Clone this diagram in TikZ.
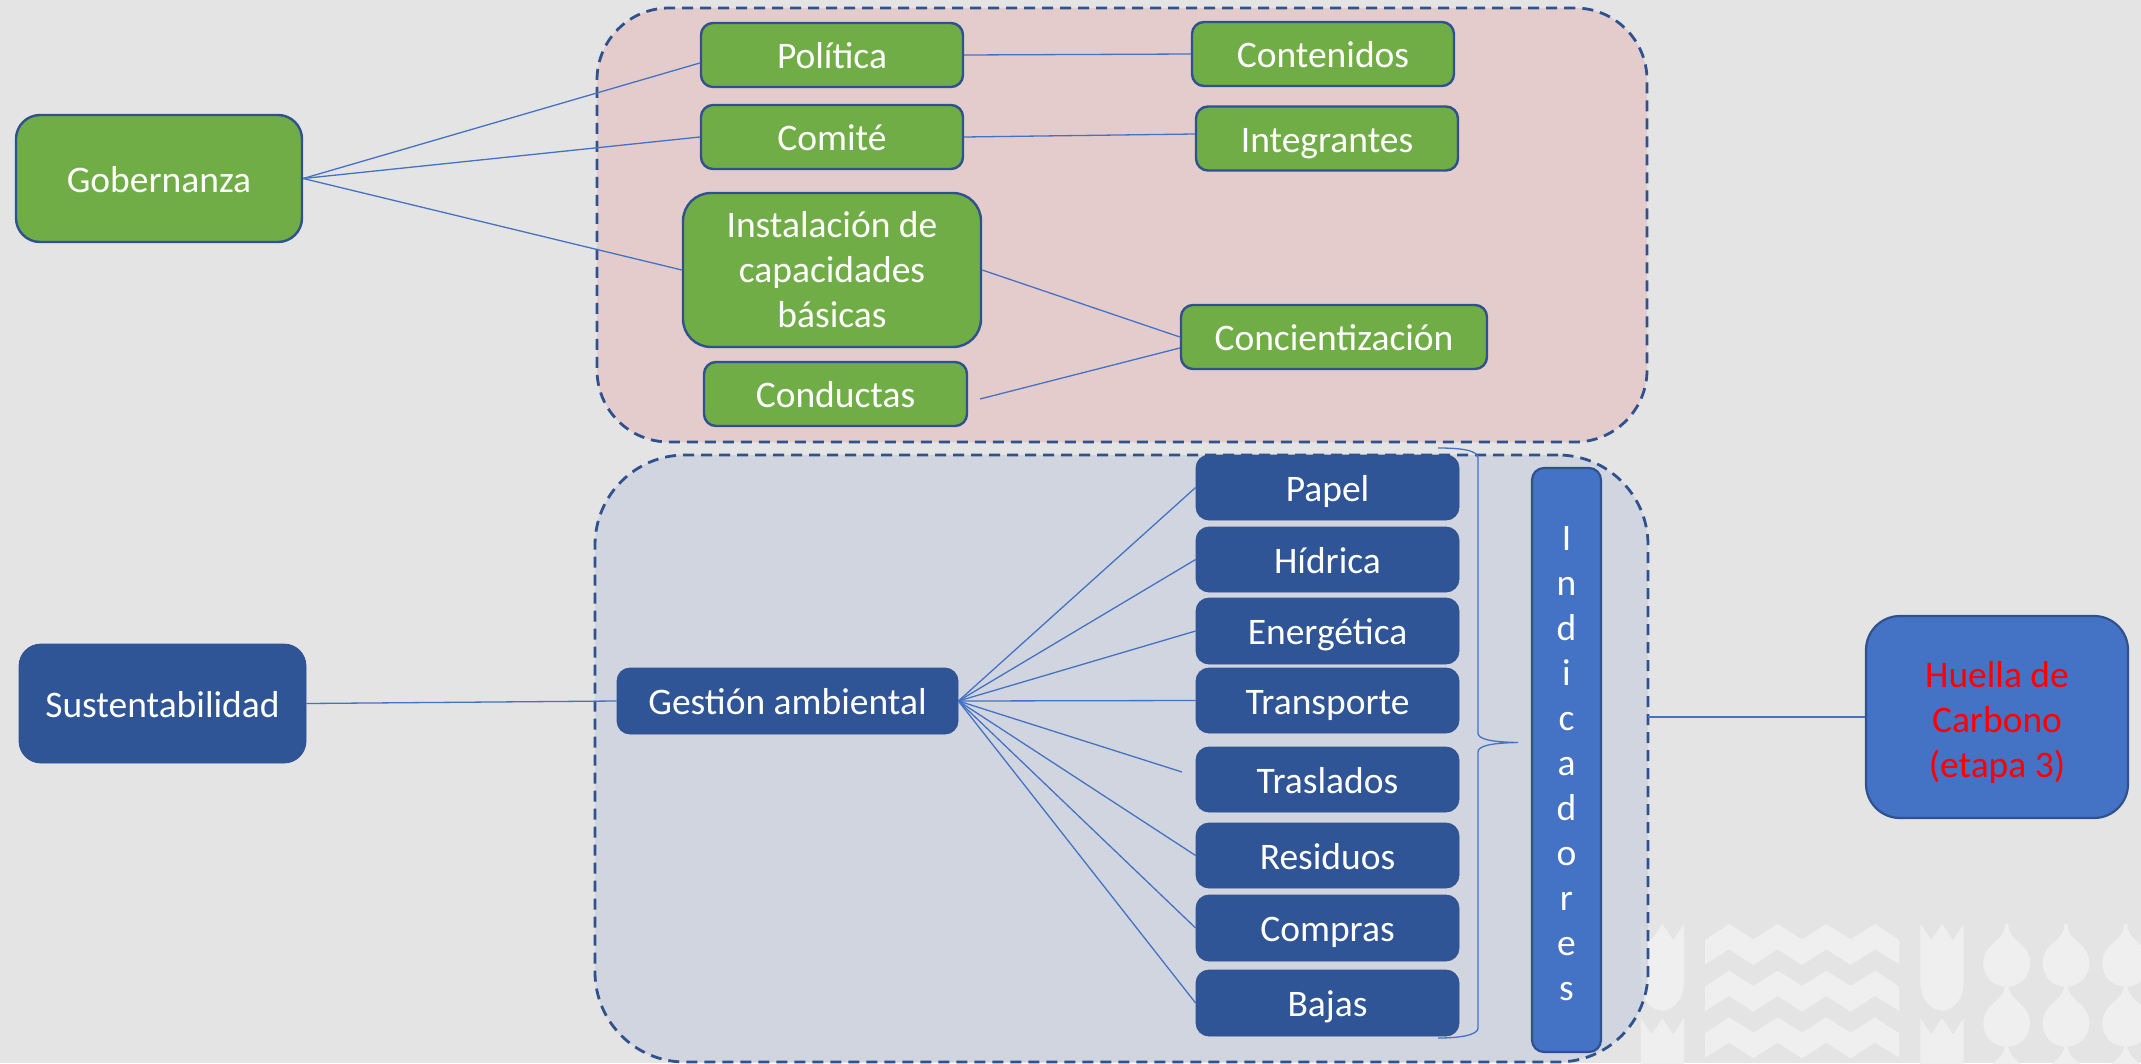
\documentclass[tikz,border=0pt]{standalone}
\usepackage{fontspec}
\setmainfont{Carlito}
\definecolor{pagebg}{HTML}{E4E4E4}
\definecolor{wmark}{HTML}{EFEFEF}
\definecolor{pinkreg}{HTML}{E5CCCC}
\definecolor{bluereg}{RGB}{202,208,221}
\definecolor{leaf}{HTML}{70AD47}
\definecolor{navy}{HTML}{2F5597}
\definecolor{edgeblue}{HTML}{2F528F}
\definecolor{midblue}{HTML}{4472C4}
\tikzset{
  region/.style={draw=edgeblue,line width=2.8pt,dash pattern=on 11pt off 7pt,inner sep=0pt},
  box/.style={rounded corners=#1,inner sep=0pt,align=center,text=white},
  greenbox/.style={box=#1,fill=leaf,draw=edgeblue,line width=2.4pt},
  navybox/.style={box=#1,fill=navy,draw=edgeblue,line width=0.8pt},
  midbox/.style={box=#1,fill=midblue,draw=edgeblue,line width=2.2pt},
  oneline/.style={text height=34pt,text depth=7pt},
  link/.style={draw=midblue,line width=1.3pt},
  every node/.append style={font=\fontsize{37.5}{45}\selectfont},
}
\begin{document}
\begin{tikzpicture}[x=1pt,y=-1pt]
\useasboundingbox (0,0) rectangle (2141,1063);
\clip (0,0) rectangle (2141,1063);
\fill[pagebg] (0,0) rectangle (2141,1063);
% watermark
\begin{scope}[shift={(1630,910)},scale=1/3,wmark]
  \foreach \dx in {0,839}{
    \foreach \dy in {0,283}{
      \fill[shift={(\dx,\dy)}] (32,42)--(65,90)--(97,42)--(130,90)--(162,42)--(162,220)
        .. controls (162,265) and (130,302) .. (97,302)
        .. controls (64,302) and (32,265) .. (32,220) -- cycle;
    }
  }
  \foreach \dy in {0,140,280}{
    \fill[shift={(0,\dy)}] (225,90)--(297,42)--(370,88)--(443,42)--(516,88)--(589,42)--(662,88)--(735,42)--(808,90)
      --(808,163)--(735,118)--(662,165)--(589,118)--(516,165)--(443,118)--(370,165)--(297,118)--(225,163)--cycle;
  }
  \foreach \c in {1130,1308,1487}{
    \foreach \dy in {0,180,360}{
      \fill[shift={(\c,\dy)}] (-5,42)--(5,42) .. controls (5,70) and (20,82) .. (40,100)
        .. controls (60,118) and (70,135) .. (70,160)
        .. controls (70,200) and (40,230) .. (0,230)
        .. controls (-40,230) and (-70,200) .. (-70,160)
        .. controls (-70,135) and (-60,118) .. (-40,100)
        .. controls (-20,82) and (-5,70) .. (-5,42) -- cycle;
    }
  }
\end{scope}
% regions
\node[region,rounded corners=72pt,fill=pinkreg,minimum width=1050pt,minimum height=434pt] (regA) at (1122,225) {};
\node[region,rounded corners=90pt,fill=bluereg,fill opacity=0.7,draw opacity=1,minimum width=1053pt,minimum height=607pt] (regB) at (1121.5,758.5) {};
% nodes
\node[greenbox=24pt,oneline,minimum width=286pt,minimum height=127pt] (gob) at (159,178.5) {Gobernanza};
\node[greenbox=12pt,oneline,minimum width=262pt,minimum height=64pt] (pol) at (832,55) {Política};
\node[greenbox=12pt,oneline,minimum width=262pt,minimum height=64pt] (com) at (832,137) {Comité};
\node[greenbox=28pt,minimum width=298pt,minimum height=154pt] (ins) at (832,270) {Instalación de\\capacidades\\básicas};
\node[greenbox=12pt,oneline,minimum width=263pt,minimum height=64pt] (con) at (835.5,394) {Conductas};
\node[greenbox=12pt,oneline,minimum width=262pt,minimum height=64pt] (cnt) at (1323,54) {Contenidos};
\node[greenbox=12pt,oneline,minimum width=262pt,minimum height=64pt] (int) at (1327,138.5) {Integrantes};
\node[greenbox=12pt,oneline,minimum width=306pt,minimum height=64pt] (cnc) at (1334,337) {Concientización};
\node[navybox=22pt,oneline,minimum width=287pt,minimum height=119pt] (sus) at (162.5,703.5) {Sustentabilidad};
\node[navybox=13pt,oneline,minimum width=341pt,minimum height=66pt] (ges) at (787.5,701) {Gestión ambiental};
\node[navybox=13pt,oneline,minimum width=263pt,minimum height=65pt] (pap) at (1327.5,487.5) {Papel};
\node[navybox=13pt,oneline,minimum width=263pt,minimum height=65pt] (hid) at (1327.5,559.5) {Hídrica};
\node[navybox=13pt,oneline,minimum width=263pt,minimum height=66pt] (ene) at (1327.5,631) {Energética};
\node[navybox=13pt,oneline,minimum width=263pt,minimum height=65pt] (tra) at (1327.5,700.5) {Transporte};
\node[navybox=13pt,oneline,minimum width=263pt,minimum height=65pt] (tsl) at (1327.5,779.5) {Traslados};
\node[navybox=13pt,oneline,minimum width=263pt,minimum height=65pt] (res) at (1327.5,855.5) {Residuos};
\node[navybox=13pt,oneline,minimum width=263pt,minimum height=66pt] (cmp) at (1327.5,928) {Compras};
\node[navybox=13pt,oneline,minimum width=263pt,minimum height=66pt] (baj) at (1327.5,1003) {Bajas};
\node[midbox=12pt,minimum width=69pt,minimum height=584pt] (ind) at (1566.5,760) {};
\node[text=white,align=center,inner sep=0pt] (indt) at (1566.5,764) {I\\n\\d\\i\\c\\a\\d\\o\\r\\e\\s};
\node[midbox=34pt,minimum width=262pt,minimum height=202pt] (hue) at (1997,717) {};
\node[text=red,align=center,inner sep=0pt] (huet) at (1997,722) {Huella de\\Carbono\\(etapa 3)};
% free ends
\coordinate (trasEnd) at (1182,772);
\coordinate (condEnd) at (980,399);
\coordinate (regOut) at (1648,717);
\coordinate (brT) at (1438,448);
\coordinate (brM) at (1518,742.5);
\coordinate (brB) at (1438,1038);
% connectors
\draw[link] (gob.east) -- ([yshift=-8pt]pol.west);
\draw[link] (gob.east) -- (com.west);
\draw[link] (gob.east) -- (ins.west);
\draw[link] (pol.east) -- (cnt.west);
\draw[link] (com.east) -- ([yshift=4.5pt]int.west);
\draw[link] (ins.east) -- (cnc.west);
\draw[link] (condEnd) -- ([yshift=-11pt]cnc.west);
\draw[link] (sus.east) -- (ges.west);
\foreach \t in {pap,hid,ene,tra,res,cmp,baj}{
  \draw[link] (ges.east) -- (\t.west);
}
\draw[link] (ges.east) -- (trasEnd);
\draw[link] (regOut) -- (hue.west);
\draw[link] (brT) .. controls (1460,448) and (1478,450) .. (1478,458) -- (1478,733)
  .. controls (1478,739) and (1490,742) .. (brM)
  .. controls (1490,743) and (1478,746) .. (1478,752) -- (1478,1028)
  .. controls (1478,1035) and (1460,1038) .. (brB);
\end{tikzpicture}
\end{document}
